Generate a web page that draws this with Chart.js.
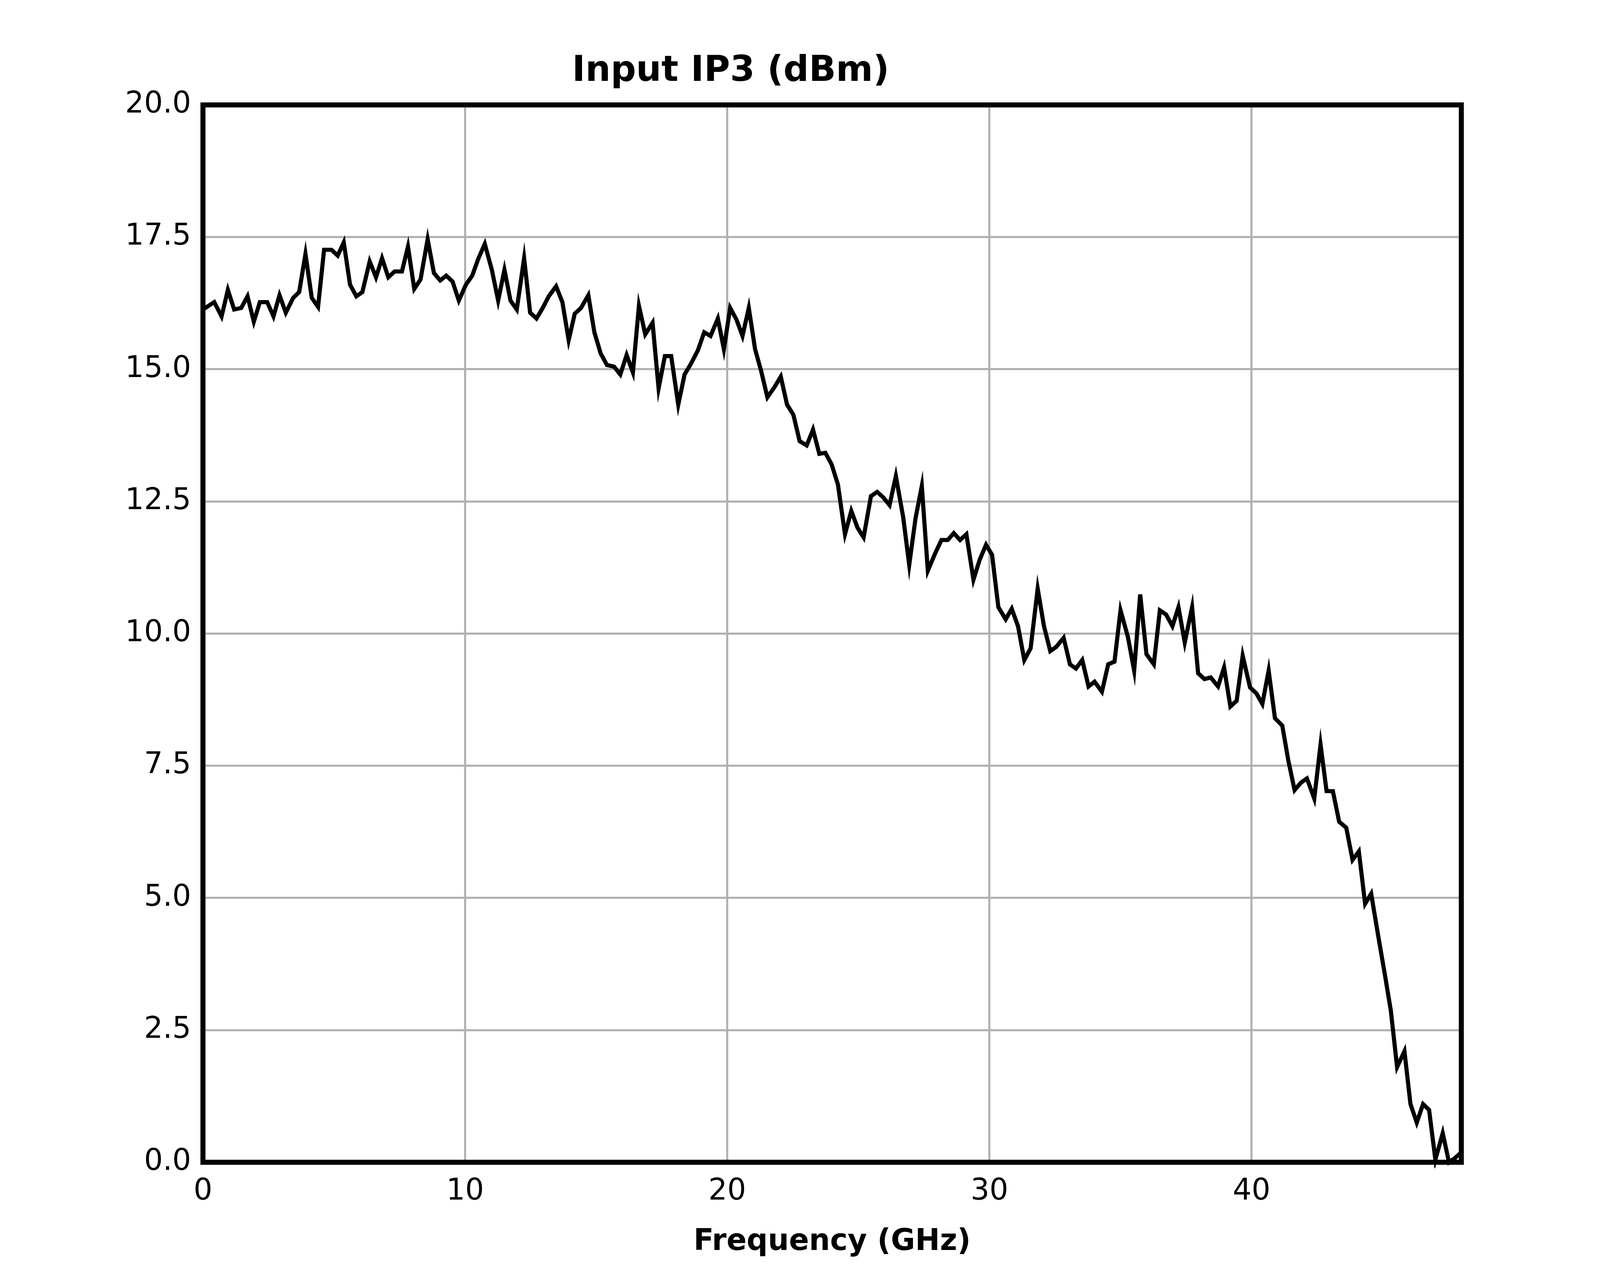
<!DOCTYPE html>
<html><head><meta charset="utf-8">
<script src="https://cdn.jsdelivr.net/npm/chart.js@4/dist/chart.umd.min.js"></script>
<style>html,body{margin:0;padding:0;background:#fff;overflow:hidden}#wrap{width:100vw;height:100vh;position:relative}</style>
</head><body>
<div id="wrap"><canvas id="c"></canvas></div>
<script>
const freqGHz = [0,0.43,0.71,0.95,1.19,1.46,1.70,1.94,2.17,2.45,2.69,2.92,3.16,3.44,3.67,3.91,4.15,4.39,4.62,4.90,5.14,5.37,5.61,5.85,6.08,6.36,6.60,6.83,7.07,7.31,7.59,7.82,8.06,8.30,8.57,8.81,9.05,9.28,9.52,9.76,10.03,10.27,10.51,10.75,11.02,11.26,11.50,11.73,11.97,12.25,12.48,12.72,12.96,13.19,13.47,13.71,13.95,14.18,14.42,14.70,14.93,15.17,15.41,15.68,15.92,16.16,16.40,16.63,16.87,17.15,17.38,17.62,17.86,18.13,18.37,18.61,18.88,19.12,19.36,19.64,19.87,20.11,20.35,20.58,20.82,21.06,21.29,21.53,21.81,22.04,22.28,22.52,22.76,23.03,23.27,23.51,23.74,23.98,24.22,24.49,24.73,24.97,25.20,25.48,25.72,25.96,26.19,26.43,26.71,26.94,27.18,27.42,27.65,27.93,28.17,28.41,28.64,28.88,29.12,29.39,29.63,29.87,30.10,30.34,30.62,30.85,31.09,31.33,31.57,31.84,32.08,32.32,32.55,32.83,33.07,33.30,33.54,33.78,34.01,34.29,34.53,34.77,35.00,35.28,35.52,35.75,35.99,36.27,36.50,36.74,36.98,37.21,37.45,37.73,37.96,38.20,38.44,38.72,38.95,39.19,39.43,39.66,39.94,40.18,40.41,40.65,40.89,41.17,41.40,41.64,41.88,42.11,42.39,42.63,42.86,43.10,43.34,43.61,43.85,44.09,44.33,44.56,44.84,45.08,45.31,45.55,45.83,46.06,46.30,46.54,46.77,47.01,47.29,47.53,47.76,48.00];
const iip3dBm = [16.13,16.27,16.0,16.5,16.13,16.16,16.38,15.9,16.27,16.27,16.0,16.4,16.07,16.35,16.46,17.18,16.35,16.18,17.26,17.26,17.15,17.4,16.6,16.38,16.46,17.04,16.74,17.1,16.74,16.85,16.85,17.32,16.52,16.7,17.46,16.82,16.68,16.77,16.66,16.3,16.6,16.77,17.1,17.37,16.88,16.3,16.88,16.3,16.13,17.1,16.07,15.96,16.16,16.38,16.57,16.27,15.55,16.05,16.16,16.4,15.7,15.3,15.08,15.05,14.9,15.27,14.94,16.2,15.66,15.88,14.64,15.25,15.25,14.33,14.9,15.1,15.36,15.7,15.63,15.96,15.38,16.16,15.94,15.63,16.16,15.38,14.97,14.47,14.67,14.86,14.33,14.14,13.64,13.56,13.86,13.4,13.42,13.2,12.82,11.88,12.32,12.0,11.82,12.6,12.68,12.57,12.43,12.98,12.2,11.3,12.18,12.79,11.19,11.52,11.77,11.77,11.9,11.77,11.88,11.02,11.4,11.68,11.49,10.5,10.27,10.47,10.14,9.5,9.72,10.85,10.14,9.67,9.75,9.92,9.42,9.34,9.5,9.0,9.09,8.9,9.42,9.47,10.44,9.94,9.3,10.74,9.61,9.42,10.44,10.36,10.14,10.5,9.83,10.5,9.25,9.14,9.17,9.0,9.36,8.62,8.73,9.58,8.98,8.87,8.67,9.3,8.4,8.26,7.6,7.04,7.18,7.26,6.88,7.9,7.02,7.02,6.44,6.33,5.72,5.88,4.89,5.08,4.25,3.56,2.87,1.8,2.1,1.1,0.75,1.1,0.99,0.05,0.55,0.0,0.08,0.19];
const xTicks = [0,10,20,30,40];
const yTicks = [0,2.5,5,7.5,10,12.5,15,17.5,20];
const titleText = 'Input IP3 (dBm)';
const xTitle = 'Frequency (GHz)';

const points = freqGHz.map((f,i)=>({x:f,y:iip3dBm[i]}));
const FONT = "'DejaVu Sans', sans-serif";
const S = window.innerWidth / 5400;

const frame = {
  id:'frame',
  afterDatasetsDraw(chart){
    const a = chart.chartArea, ctx = chart.ctx;
    ctx.save(); ctx.strokeStyle='#000'; ctx.lineWidth=17*S;
    ctx.strokeRect(a.left,a.top,a.right-a.left,a.bottom-a.top);
    ctx.restore();
  }
};

new Chart(document.getElementById('c'), {
  type:'line',
  data:{datasets:[{data:points,borderColor:'#000',borderWidth:14*S,pointRadius:0,tension:0,fill:false,borderJoinStyle:'miter',clip:20*S}]},
  options:{
    responsive:true, maintainAspectRatio:false, animation:false,
    layout:{padding:{left:0,right:468*S,top:150*S,bottom:20*S}},
    plugins:{
      legend:{display:false}, tooltip:{enabled:false},
      title:{display:true,text:titleText,color:'#000',font:{family:FONT,size:120*S,weight:'bold'},padding:{top:20*S,bottom:40*S}}
    },
    scales:{
      x:{type:'linear',min:0,max:48,
        afterBuildTicks(s){s.ticks=xTicks.map(v=>({value:v}));},
        grid:{color:'#b0b0b0',lineWidth:7*S,drawTicks:false},
        border:{display:false},
        ticks:{color:'#000',font:{family:FONT,size:100*S},padding:40*S,maxRotation:0},
        title:{display:true,text:xTitle,color:'#000',font:{family:FONT,size:100*S,weight:'bold'},padding:{top:10*S,bottom:0}}
      },
      y:{type:'linear',min:0,max:20,
        afterBuildTicks(s){s.ticks=yTicks.map(v=>({value:v}));},
        afterFit(s){s.width=685*S;},
        grid:{color:'#b0b0b0',lineWidth:7*S,drawTicks:false},
        border:{display:false},
        ticks:{color:'#000',font:{family:FONT,size:100*S},padding:40*S,callback:v=>Number(v).toFixed(1)}
      }
    }
  },
  plugins:[frame]
});
</script>
</body></html>
